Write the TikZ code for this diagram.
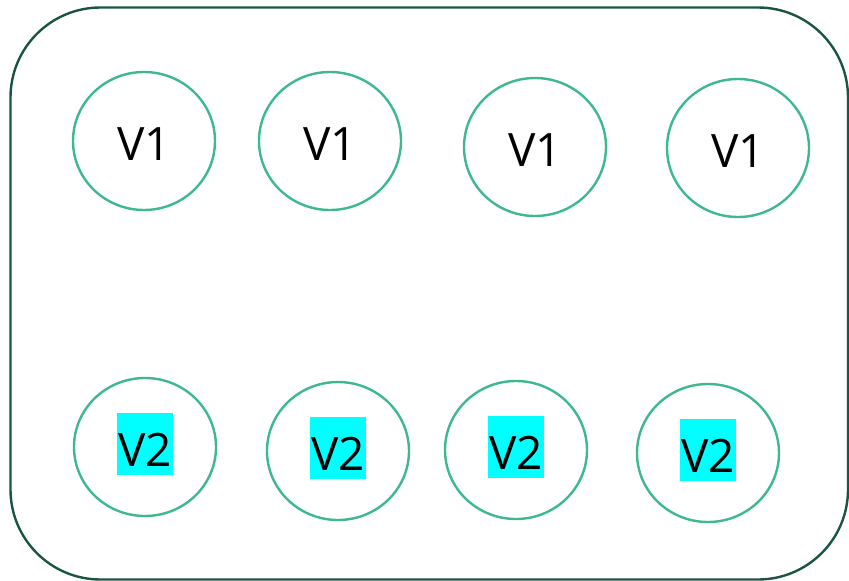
\documentclass[tikz,border=0pt]{standalone}
\usepackage{fontspec}
\setmainfont{Open Sans}
\usetikzlibrary{shapes.geometric}
\definecolor{frame}{HTML}{1B5443}
\definecolor{ring}{HTML}{3DB891}
\definecolor{hl}{HTML}{00FFFF}
\tikzset{
  circ/.style={draw=ring, line width=2.4pt, ellipse, minimum width=142pt, minimum height=138pt, inner sep=0pt},
  lab/.style={font=\fontsize{46}{50}\selectfont, inner sep=0pt, anchor=base},
  hlab/.style={lab, fill=hl, inner xsep=1.5pt, text height=53pt, text depth=9pt}
}
\begin{document}
\begin{tikzpicture}[x=1pt,y=-1pt]
\useasboundingbox (0,0) rectangle (849,581);
\draw[frame, line width=2.4pt, rounded corners=90pt] (10.5,7.5) rectangle (848,579.5);
\node[circ] (a1) at (144,141) {};
\node[circ] (a2) at (330,141) {};
\node[circ] (a3) at (535,147) {};
\node[circ] (a4) at (738,148) {};
\node[circ] (b1) at (145,447) {};
\node[circ] (b2) at (338,451) {};
\node[circ] (b3) at (516,450) {};
\node[circ] (b4) at (708,453) {};
\node[lab] (ta1) at ([yshift=-19pt]a1.center) {V1};
\node[lab] (ta2) at ([yshift=-19pt]a2.center) {V1};
\node[lab] (ta3) at ([yshift=-19pt]a3.center) {V1};
\node[lab] (ta4) at ([yshift=-19pt]a4.center) {V1};
\node[hlab] (tb1) at ([yshift=-19pt]b1.center) {V2};
\node[hlab] (tb2) at ([yshift=-19pt]b2.center) {V2};
\node[hlab] (tb3) at ([yshift=-19pt]b3.center) {V2};
\node[hlab] (tb4) at ([yshift=-19pt]b4.center) {V2};
\end{tikzpicture}
\end{document}
